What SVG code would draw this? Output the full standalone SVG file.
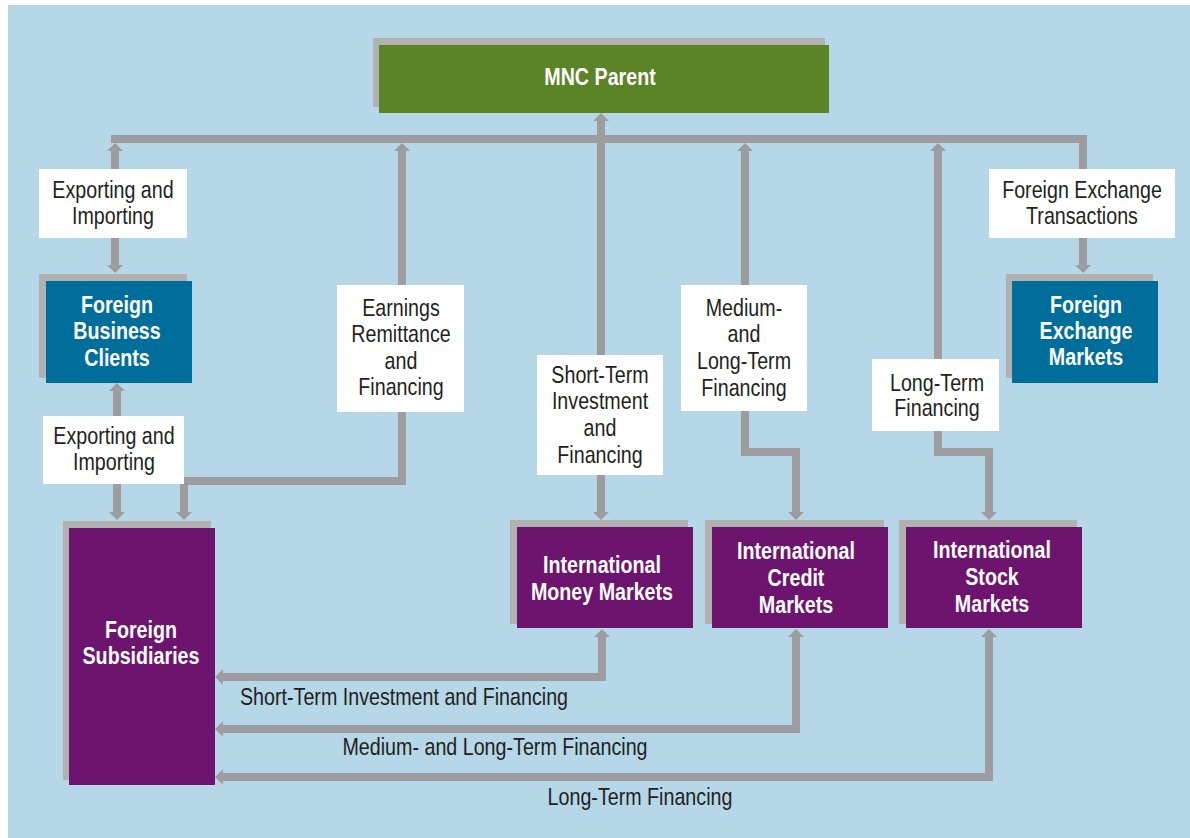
<svg xmlns="http://www.w3.org/2000/svg" width="1190" height="838" viewBox="0 0 1190 838">
<style>
.bg{fill:#b5d7e7}
.sh{fill:#b1b1b1}
.green{fill:#5b8427}
.teal{fill:#006e9a}
.purple{fill:#6d146f}
.lbl{fill:#ffffff}
.conn{fill:none;stroke:#9d9d9f;stroke-width:8;stroke-linejoin:miter}
text{font-family:'Liberation Sans Narrow','Arial Narrow','Liberation Sans',Arial,sans-serif;font-size:24px;text-anchor:middle}
.nt{fill:#ffffff;font-weight:bold}
.lt{fill:#231f20}
</style>
<defs>
<marker id="ah" markerUnits="userSpaceOnUse" markerWidth="10" markerHeight="18" viewBox="0 -9 10 18" refX="0" refY="0" orient="auto-start-reverse">
<path d="M0,-8 L8,0 L0,8 z" fill="#9d9d9f"/>
</marker>
</defs>
<rect class="bg" x="8" y="5" width="1182" height="833"/>

<g id="connectors">
<path class="conn" d="M111,139 H1083 V265" marker-end="url(#ah)"/>
<path class="conn" d="M115,151 V265" marker-start="url(#ah)" marker-end="url(#ah)"/>
<path class="conn" d="M601,121 V512" marker-start="url(#ah)" marker-end="url(#ah)"/>
<path class="conn" d="M402,151 V481 H184 V512" marker-start="url(#ah)" marker-end="url(#ah)"/>
<path class="conn" d="M745,151 V452 H796 V512" marker-start="url(#ah)" marker-end="url(#ah)"/>
<path class="conn" d="M938,151 V452 H989 V512" marker-start="url(#ah)" marker-end="url(#ah)"/>
<path class="conn" d="M117,391 V512" marker-start="url(#ah)" marker-end="url(#ah)"/>
<path class="conn" d="M223,677 H602 V637" marker-start="url(#ah)" marker-end="url(#ah)"/>
<path class="conn" d="M223,729 H796 V637" marker-start="url(#ah)" marker-end="url(#ah)"/>
<path class="conn" d="M223,777 H989 V637" marker-start="url(#ah)" marker-end="url(#ah)"/>
</g>

<g id="labels">
<g id="lbl-export1"><rect class="lbl" x="39" y="169" width="148" height="69"/><g transform="matrix(0.82 0 0 1 113 0)"><text class="lt" x="0" y="198">Exporting and</text><text class="lt" x="0" y="224">Importing</text></g></g>
<g id="lbl-export2"><rect class="lbl" x="43" y="416" width="141" height="68"/><g transform="matrix(0.82 0 0 1 114 0)"><text class="lt" x="0" y="444">Exporting and</text><text class="lt" x="0" y="470">Importing</text></g></g>
<g id="lbl-earnings"><rect class="lbl" x="337" y="285" width="127" height="127"/><g transform="matrix(0.82 0 0 1 401 0)"><text class="lt" x="0" y="316">Earnings</text><text class="lt" x="0" y="342">Remittance</text><text class="lt" x="0" y="369">and</text><text class="lt" x="0" y="395">Financing</text></g></g>
<g id="lbl-short"><rect class="lbl" x="537" y="355" width="126" height="120"/><g transform="matrix(0.82 0 0 1 600 0)"><text class="lt" x="0" y="383">Short-Term</text><text class="lt" x="0" y="409">Investment</text><text class="lt" x="0" y="436">and</text><text class="lt" x="0" y="463">Financing</text></g></g>
<g id="lbl-medium"><rect class="lbl" x="681" y="285" width="126" height="126"/><g transform="matrix(0.82 0 0 1 744 0)"><text class="lt" x="0" y="316">Medium-</text><text class="lt" x="0" y="342">and</text><text class="lt" x="0" y="369">Long-Term</text><text class="lt" x="0" y="396">Financing</text></g></g>
<g id="lbl-long"><rect class="lbl" x="872" y="359" width="127" height="72"/><g transform="matrix(0.82 0 0 1 937 0)"><text class="lt" x="0" y="391">Long-Term</text><text class="lt" x="0" y="416">Financing</text></g></g>
<g id="lbl-fx"><rect class="lbl" x="989" y="169" width="186" height="69"/><g transform="matrix(0.82 0 0 1 1082 0)"><text class="lt" x="0" y="198">Foreign Exchange</text><text class="lt" x="0" y="224">Transactions</text></g></g>
<g transform="matrix(0.82 0 0 1 404 0)"><text class="lt" x="0" y="705">Short-Term Investment and Financing</text></g>
<g transform="matrix(0.82 0 0 1 495 0)"><text class="lt" x="0" y="755">Medium- and Long-Term Financing</text></g>
<g transform="matrix(0.82 0 0 1 640 0)"><text class="lt" x="0" y="805">Long-Term Financing</text></g>
</g>

<g id="mnc-parent"><rect class="sh" x="373" y="38" width="452" height="69"/><rect class="green" x="379" y="45" width="450" height="68"/><g transform="matrix(0.82 0 0 1 600 0)"><text class="nt" x="0" y="85">MNC Parent</text></g></g>
<g id="foreign-business-clients"><rect class="sh" x="39" y="274" width="148" height="104"/><rect class="teal" x="46" y="281" width="146" height="102"/><g transform="matrix(0.82 0 0 1 117 0)"><text class="nt" x="0" y="313">Foreign</text><text class="nt" x="0" y="339">Business</text><text class="nt" x="0" y="366">Clients</text></g></g>
<g id="foreign-exchange-markets"><rect class="sh" x="1006" y="274" width="147" height="104"/><rect class="teal" x="1012" y="281" width="146" height="102"/><g transform="matrix(0.82 0 0 1 1086 0)"><text class="nt" x="0" y="313">Foreign</text><text class="nt" x="0" y="339">Exchange</text><text class="nt" x="0" y="365">Markets</text></g></g>
<g id="foreign-subsidiaries"><rect class="sh" x="63" y="521" width="148" height="259"/><rect class="purple" x="69" y="528" width="146" height="257"/><g transform="matrix(0.82 0 0 1 141 0)"><text class="nt" x="0" y="638">Foreign</text><text class="nt" x="0" y="664">Subsidiaries</text></g></g>
<g id="money-markets"><rect class="sh" x="510" y="520" width="178" height="104"/><rect class="purple" x="517" y="527" width="176" height="101"/><g transform="matrix(0.82 0 0 1 602 0)"><text class="nt" x="0" y="573">International</text><text class="nt" x="0" y="600">Money Markets</text></g></g>
<g id="credit-markets"><rect class="sh" x="705" y="520" width="179" height="104"/><rect class="purple" x="712" y="527" width="176" height="101"/><g transform="matrix(0.82 0 0 1 796 0)"><text class="nt" x="0" y="559">International</text><text class="nt" x="0" y="586">Credit</text><text class="nt" x="0" y="613">Markets</text></g></g>
<g id="stock-markets"><rect class="sh" x="899" y="520" width="178" height="104"/><rect class="purple" x="906" y="527" width="176" height="101"/><g transform="matrix(0.82 0 0 1 992 0)"><text class="nt" x="0" y="558">International</text><text class="nt" x="0" y="585">Stock</text><text class="nt" x="0" y="612">Markets</text></g></g>
</svg>
